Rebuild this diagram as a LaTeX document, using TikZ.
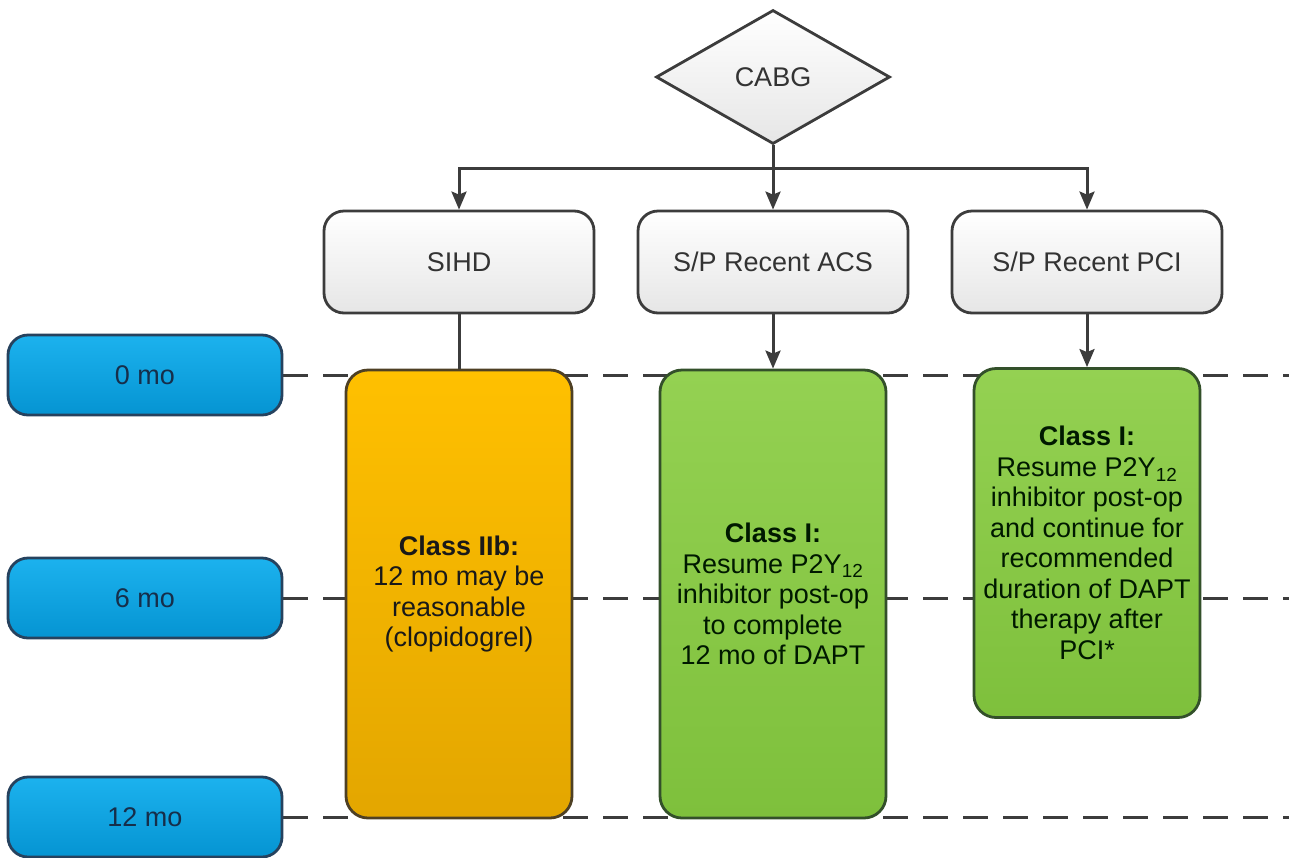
\documentclass[tikz,border=0pt]{standalone}
\usepackage{fontspec}
\setmainfont{Liberation Sans}
\usetikzlibrary{shapes.geometric,arrows.meta,backgrounds}
\definecolor{linegray}{HTML}{3C3C3C}
\definecolor{bluetop}{HTML}{1CB2EE}
\definecolor{bluebot}{HTML}{0594D2}
\definecolor{blueline}{HTML}{26425E}
\definecolor{bluetext}{HTML}{162E4A}
\definecolor{orangetop}{HTML}{FFC000}
\definecolor{orangebot}{HTML}{E3A600}
\definecolor{orangeline}{HTML}{4E4024}
\definecolor{greentop}{HTML}{94D152}
\definecolor{greenbot}{HTML}{7EC03C}
\definecolor{greenline}{HTML}{33502A}
\definecolor{greytop}{HTML}{FFFFFF}
\definecolor{greybot}{HTML}{E6E6E6}
\begin{document}
\begin{tikzpicture}[x=1pt,y=-1pt,
  base/.style={draw=linegray, line width=2.8pt, inner sep=0pt, align=center,
    font=\fontsize{27}{30.5}\selectfont},
  decision/.style={base, shape=diamond, minimum width=234pt, minimum height=134pt,
    top color=greytop, bottom color=greybot, text=black!80},
  greybox/.style={base, rounded corners=20pt, minimum width=270pt, minimum height=102pt,
    top color=greytop, bottom color=greybot, text=black!80},
  timebox/.style={base, draw=blueline, rounded corners=20pt, minimum width=274pt,
    minimum height=80pt, top color=bluetop, bottom color=bluebot, text=bluetext},
  orangebox/.style={base, draw=orangeline, rounded corners=22pt, minimum width=226pt,
    top color=orangetop, bottom color=orangebot, text=black!90},
  greenbox/.style={base, draw=greenline, rounded corners=22pt, minimum width=226pt,
    top color=greentop, bottom color=greenbot, text=black!90!green},
  conn/.style={draw=linegray, line width=3pt, -{Stealth[length=18pt,width=15pt,inset=3pt]}},
  plain/.style={draw=linegray, line width=3pt},
  dashline/.style={draw=linegray, line width=3pt, dash pattern=on 25pt off 15pt}
]
\useasboundingbox (0,0) rectangle (1289,857);

% decision and categories
\node[decision] (cabg) at (773,77) {CABG};
\node[greybox] (sihd) at (459,262) {SIHD};
\node[greybox] (acs) at (773,262) {S/P Recent ACS};
\node[greybox] (pci) at (1087,262) {S/P Recent PCI};

% time markers
\node[timebox] (m0) at (145,375) {0 mo};
\node[timebox] (m6) at (145,598) {6 mo};
\node[timebox] (m12) at (145,817) {12 mo};

% recommendation boxes
\node[orangebox, minimum height=448pt] (rsihd) at (459,594)
  {\textbf{Class IIb:}\\12 mo may be\\reasonable\\(clopidogrel)};
\node[greenbox, minimum height=448pt] (racs) at (773,594)
  {\textbf{Class I:}\\Resume P2Y\textsubscript{12}\\inhibitor post-op\\to complete\\12 mo of DAPT};
\node[greenbox, minimum height=349pt] (rpci) at (1087,543)
  {\textbf{Class I:}\\Resume P2Y\textsubscript{12}\\inhibitor post-op\\and continue for\\recommended\\duration of DAPT\\therapy after\\PCI*};

% free ends of the time lines
\coordinate (e0) at (1289,375);
\coordinate (e6) at (1289,598);
\coordinate (e12) at (1289,817);

% connectors
\path (cabg.south) ++(0,23) coordinate (split);
\draw[conn] (cabg.south) -- (acs.north);
\draw[conn] (split) -| (sihd.north);
\draw[conn] (split) -| (pci.north);
\draw[plain] (sihd.south) -- (rsihd.north);
\draw[conn] (acs.south) -- (racs.north);
\draw[conn] (pci.south) -- (rpci.north);

\begin{scope}[on background layer]
  \draw[dashline] (m0.east) -- (e0);
  \draw[dashline] (m6.east) -- (e6);
  \draw[dashline] (m12.east) -- (e12);
\end{scope}
\end{tikzpicture}
\end{document}
